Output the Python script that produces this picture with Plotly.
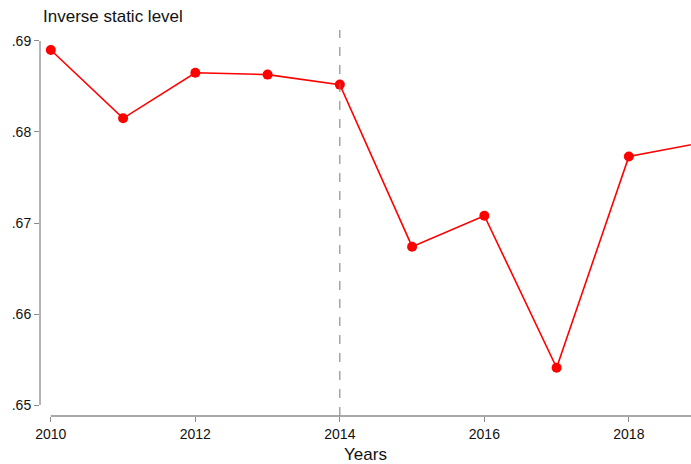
import plotly.graph_objects as go

# Inverse static level by year
years = [2010, 2011, 2012, 2013, 2014, 2015, 2016, 2017, 2018, 2019]
values = [0.6890, 0.6815, 0.6865, 0.6863, 0.6852, 0.6674, 0.6708, 0.6541, 0.6773, 0.6788]

x_ticks = [2010, 2012, 2014, 2016, 2018]
y_ticks = [0.65, 0.66, 0.67, 0.68, 0.69]
y_tick_text = [".65", ".66", ".67", ".68", ".69"]
break_year = 2014

x_range = [2009.85, 2018.86]
y_range = [0.6488, 0.6912]

axis_grey = "#8c8c8c"
font_family = "Liberation Sans, Arial, sans-serif"

fig = go.Figure()

fig.add_trace(go.Scatter(
    x=years, y=values, mode="lines+markers",
    line=dict(color="#ff0000", width=1.6),
    marker=dict(color="#ff0000", size=10),
    showlegend=False, hoverinfo="x+y",
))

# Vertical dashed reference line
fig.add_shape(type="line", xref="x", yref="paper",
              x0=break_year, x1=break_year, y0=0, y1=1,
              line=dict(color="#777777", width=1, dash="dash"))

# Offset axis lines spanning only the labelled range
fig.add_shape(type="line", xref="paper", yref="y",
              x0=0, x1=0, y0=y_ticks[0], y1=y_ticks[-1],
              line=dict(color=axis_grey, width=1.3))
fig.add_shape(type="line", xref="x", yref="paper",
              x0=x_ticks[0], x1=x_range[1], y0=0, y1=0,
              line=dict(color=axis_grey, width=1.3))

fig.update_xaxes(
    range=x_range, tickvals=x_ticks, ticks="outside", ticklen=5,
    tickcolor=axis_grey, tickwidth=1.2, showgrid=False, zeroline=False,
    showline=False, tickfont=dict(size=14, color="#111111", family=font_family),
    title=dict(text="Years", font=dict(size=17, color="#111111", family=font_family),
               standoff=8),
)
fig.update_yaxes(
    range=y_range, tickvals=y_ticks, ticktext=y_tick_text, ticks="outside",
    ticklen=5, tickcolor=axis_grey, tickwidth=1.2, showgrid=False,
    zeroline=False, showline=False,
    tickfont=dict(size=14, color="#111111", family=font_family),
)

fig.update_layout(
    width=691, height=464,
    margin=dict(l=40, r=0, t=30, b=48),
    paper_bgcolor="white", plot_bgcolor="white",
    font=dict(family=font_family),
    title=dict(text="Inverse static level", x=43 / 691, xref="container",
               xanchor="left", y=1 - 16 / 464, yref="container",
               yanchor="middle",
               font=dict(size=17, color="#111111", family=font_family)),
)

fig.write_html("out.html")
